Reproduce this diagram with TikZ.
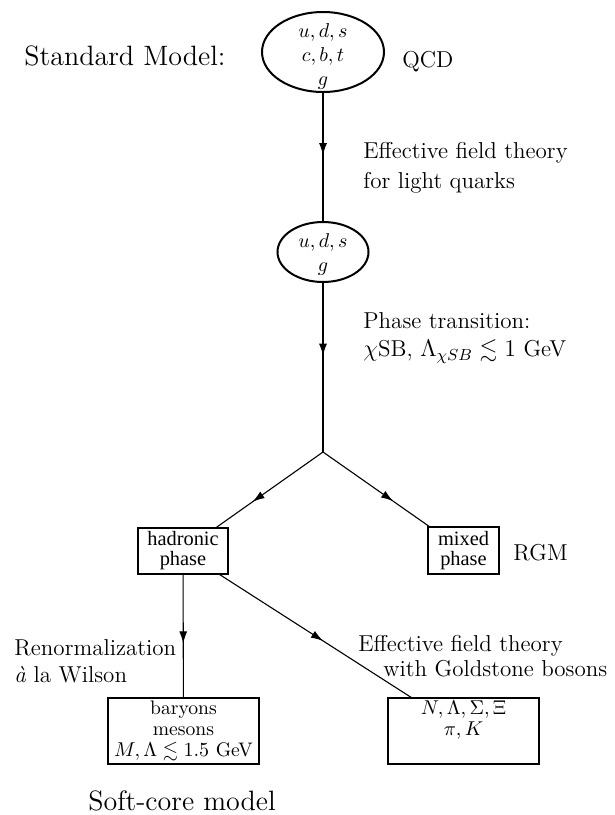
\documentclass[tikz,border=0pt]{standalone}
\usepackage{amssymb}
\usepackage{fontspec}
\newfontfamily\timesfont{Liberation Serif}
\usetikzlibrary{arrows.meta,decorations.markings,shapes.geometric}
\begin{document}
\begin{tikzpicture}[x=0.5pt,y=-0.5pt,
  lab/.style={font=\fontsize{11.5}{13}\selectfont, align=left, inner sep=0pt},
  big/.style={font=\fontsize{14}{16}\selectfont, inner sep=0pt},
  ell/.style={ellipse, draw, line width=1pt, inner sep=0pt},
  etxt/.style={inner sep=0pt, align=center, font=\fontsize{9.8}{12}\selectfont},
  box/.style={rectangle, draw, line width=0.55pt, inner sep=0pt, align=center, font=\fontsize{9.8}{10.6}\selectfont},
  tbox/.style={box, font=\timesfont\fontsize{10.2}{10}\selectfont},
  conn/.style={line width=0.55pt},
  arrowat/.style={postaction={decorate}, decoration={markings, mark=at position #1 with {\arrow{Latex[length=6pt,width=4pt]}}}},
]
\useasboundingbox (0,0) rectangle (615,815);

% top
\node[big, anchor=base] (sm) at (125,65) {Standard Model:};
\node[ell, minimum width=61pt, minimum height=40pt] (qcd) at (323,52) {};
\node[etxt] (qcdt) at (323,56) {$u,d,s$\\$c,b,t$\\$g$};
\node[lab, anchor=west] (qcdl) at (402,62) {QCD};

\node[ell, minimum width=45.5pt, minimum height=30pt] (lq) at (323,252) {};
\node[etxt] (lqt) at (323,254.5) {$u,d,s$\\$g$};

\node[lab, anchor=west, font=\fontsize{11.5}{15}\selectfont] (eft1) at (363,168) {Effective field theory\\for light quarks};
\node[lab, anchor=west, font=\fontsize{11.5}{14}\selectfont] (ptl) at (363,338) {Phase transition:\\$\chi$SB, $\Lambda_{\chi SB}\lesssim 1$ GeV};

\coordinate (J) at (323,452);

% phases
\node[tbox, minimum width=45pt, minimum height=23pt] (had) at (183,551) {hadronic\\phase};
\node[tbox, minimum width=35.5pt, minimum height=23.5pt] (mix) at (463.5,550.5) {mixed\\phase};
\node[lab, anchor=west] (rgm) at (513,553) {RGM};

% bottom
\node[box, minimum width=75.5pt, minimum height=33pt] (bar) at (183.5,731) {baryons\\mesons\\$M,\Lambda\lesssim 1.5$ GeV};
\node[box, minimum width=75.5pt, minimum height=33pt] (oct) at (463.5,731) {$N,\Lambda,\Sigma,\Xi$\\$\pi,K$\\\phantom{$M,\Lambda\lesssim 1.5$ GeV}};
\node[big, anchor=base] (soft) at (182,810) {Soft-core model};

\node[lab, anchor=west, font=\fontsize{11.5}{13.5}\selectfont] (ren) at (14,661) {Renormalization\\\textit{à} la Wilson};
\node[lab, anchor=west, font=\fontsize{11.5}{12.5}\selectfont] (eft2) at (358,656) {Effective field theory\\\hspace*{12.5pt}with Goldstone bosons};

% connectors
\draw[conn, arrowat=0.485] (qcd) -- (lq);
\draw[conn, arrowat=0.43] (lq) -- (J);
\draw[conn, arrowat=0.66] (J) -- (had);
\draw[conn, arrowat=0.66] (J) -- (mix);
\draw[conn, arrowat=0.56] (had) -- (bar);
\draw[conn, arrowat=0.54] (had) -- (oct);
\end{tikzpicture}
\end{document}
